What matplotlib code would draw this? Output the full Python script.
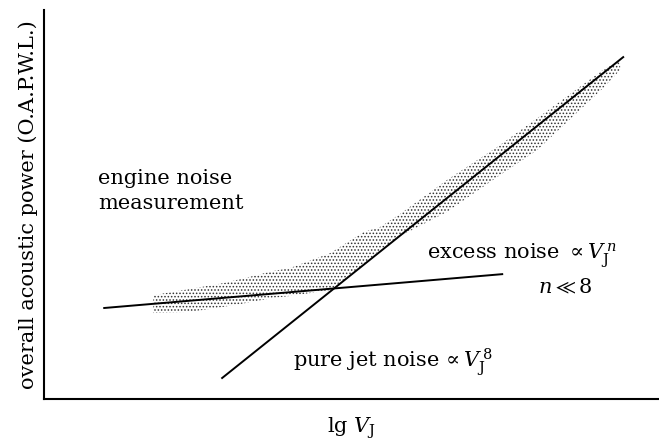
import matplotlib.pyplot as plt

plt.rcParams['font.family'] = 'DejaVu Serif'
plt.rcParams['mathtext.fontset'] = 'dejavuserif'
plt.rcParams['hatch.linewidth'] = 0.7

# measured band of engine noise (lg V_J, O.A.P.W.L.), arbitrary units
band_x = [17.8, 23.8, 29.2, 31.9, 37.3, 40.1, 46.6, 52.0, 54.7, 58.0,
          65.6, 73.8, 80.3, 91.0, 93.8]
band_top = [26.7, 28.3, 29.8, 30.8, 32.9, 33.7, 37.5, 42.9, 44.2, 47.6,
            56.3, 64.8, 72.2, 84.6, 87.1]
band_bottom = [22.1, 22.4, 23.7, 24.4, 26.0, 26.5, 28.0, 34.4, 38.3, 41.9,
               48.1, 57.1, 64.0, 79.9, 84.6]

# excess noise ~ V_J^n, n << 8
excess_x = [9.8, 74.6]
excess_y = [23.4, 32.1]

# pure jet noise ~ V_J^8
jet_x = [29.0, 94.3]
jet_y = [5.4, 87.9]

fig = plt.figure(figsize=(6.59, 4.43), dpi=100)
ax = fig.add_axes([0.0668, 0.0993, 0.932, 0.878])

ax.fill_between(band_x, band_bottom, band_top, facecolor='none',
                edgecolor='#333333', hatch='.....', linewidth=0)
ax.plot(excess_x, excess_y, color='black', lw=1.4)
ax.plot(jet_x, jet_y, color='black', lw=1.4)

ax.set_xlim(0, 100)
ax.set_ylim(0, 100)
ax.spines['top'].set_visible(False)
ax.spines['right'].set_visible(False)
ax.spines['left'].set_linewidth(1.5)
ax.spines['bottom'].set_linewidth(1.5)
ax.set_xticks([])
ax.set_yticks([])

fs = 15
ax.text(8.8, 53.5, 'engine noise\nmeasurement', fontsize=fs,
        ha='left', va='center', linespacing=1.35)
ax.text(62.4, 36.9, r'excess noise $\propto V_\mathrm{J}^{\,n}$', fontsize=fs,
        ha='left', va='center')
ax.text(80.5, 28.5, r'$n \ll 8$', fontsize=fs, ha='left', va='center')
ax.text(40.5, 9.5, r'pure jet noise$\,\propto V_\mathrm{J}^{\,8}$', fontsize=fs,
        ha='left', va='center')

ax.set_xlabel(r'lg $V_\mathrm{J}$', fontsize=fs, labelpad=12)
ax.set_ylabel('overall acoustic power (O.A.P.W.L.)', fontsize=fs, labelpad=4)

fig.savefig('out.png', dpi=100)
